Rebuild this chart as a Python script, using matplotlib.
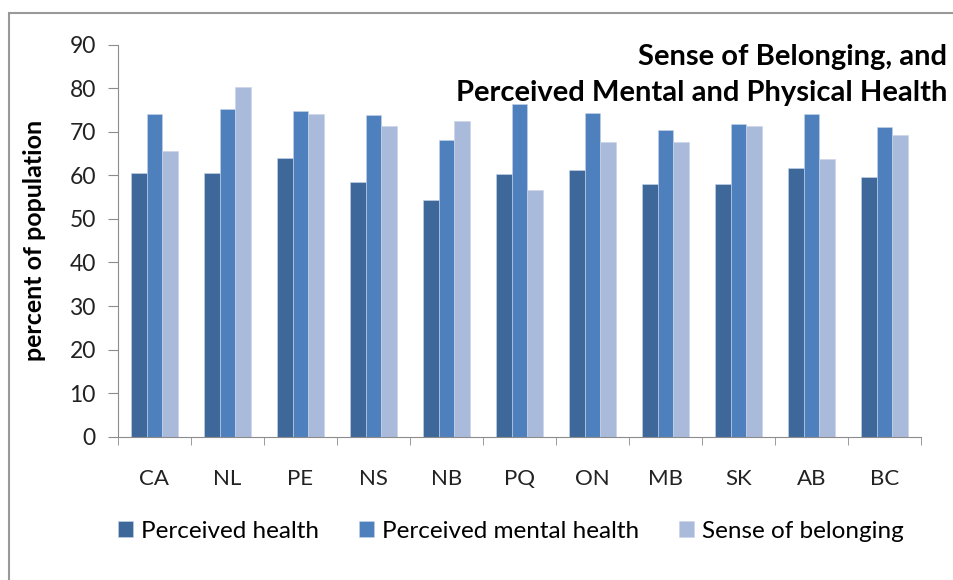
import matplotlib.pyplot as plt
import numpy as np
from matplotlib.patches import Rectangle

provinces = ['CA', 'NL', 'PE', 'NS', 'NB', 'PQ', 'ON', 'MB', 'SK', 'AB', 'BC']
perceived_health = [60.5, 60.5, 64.0, 58.4, 54.3, 60.2, 61.2, 58.1, 58.1, 61.6, 59.6]
mental_health = [74.0, 75.2, 74.8, 73.8, 68.1, 76.4, 74.3, 70.5, 71.7, 74.0, 71.0]
belonging = [65.5, 80.3, 74.0, 71.4, 72.5, 56.7, 67.6, 67.6, 71.4, 63.7, 69.3]

series = [
    ('Perceived health', perceived_health, '#3F689A'),
    ('Perceived mental health', mental_health, '#4E80BD'),
    ('Sense of belonging', belonging, '#AABADA'),
]

plt.rcParams['font.family'] = ['Lato', 'DejaVu Sans']

W, H = 954, 580
fig = plt.figure(figsize=(9.54, 5.8), dpi=100)
ax = fig.add_axes([118 / W, 1 - 436.7 / H, (921 - 118) / W, (436.7 - 44.7) / H])

x = np.arange(len(provinces))
w = 0.215
for i, (name, vals, col) in enumerate(series):
    ax.bar(x + (i - 1) * w, vals, w, color=col, edgecolor='#c8d4e8', linewidth=0.4, label=name)

ax.set_xlim(-0.5, len(provinces) - 0.5)
ax.set_ylim(0, 90)
ax.set_yticks(range(0, 91, 10))
ax.set_xticks(x)
ax.set_xticklabels(provinces)
ax.set_xticks(np.arange(-0.5, len(provinces), 1), minor=True)
ax.tick_params(axis='x', which='major', length=0, pad=23, labelsize=16, colors='#222222')
ax.tick_params(axis='x', which='minor', length=6, color='#8c8c8c')
ax.tick_params(axis='y', length=7, pad=9, color='#8c8c8c', labelsize=16.5, labelcolor='#222222')
for s in ['top', 'right']:
    ax.spines[s].set_visible(False)
for s in ['left', 'bottom']:
    ax.spines[s].set_color('#8c8c8c')

ax.set_ylabel('percent of population', fontsize=18, fontweight='bold')
ax.yaxis.label.set_verticalalignment('center')
ax.yaxis.set_label_coords((35 - 118) / 803, 0.5)

fig.text(947 / W, 1 - 65 / H, 'Sense of Belonging, and', ha='right', va='baseline',
         fontsize=21, fontweight='bold')
fig.text(947 / W, 1 - 101 / H, 'Perceived Mental and Physical Health', ha='right', va='baseline',
         fontsize=21, fontweight='bold')

handles, labels = ax.get_legend_handles_labels()
fig.legend(handles, labels, loc='center', bbox_to_anchor=(511 / W, 1 - 531 / H), ncol=3,
           frameon=False, fontsize=17.5, handlelength=0.62, handleheight=0.62,
           handletextpad=0.33, columnspacing=1.65, borderpad=0, borderaxespad=0)

fig.patches.append(Rectangle((9 / W, -0.1), 1.2, 1 - 13 / H + 0.1, transform=fig.transFigure,
                             fill=False, edgecolor='#999999', linewidth=1.5))

fig.savefig('out.png', dpi=100)
